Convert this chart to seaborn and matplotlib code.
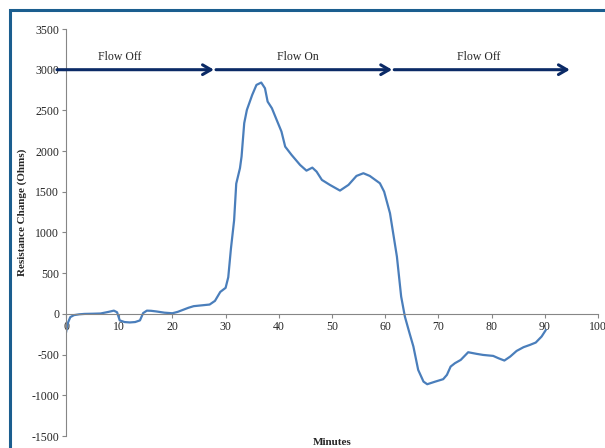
import matplotlib
matplotlib.use("Agg")
import matplotlib.pyplot as plt
import seaborn as sns
import pandas as pd
from matplotlib.patches import Rectangle

# data
minutes = [0, 0.3, 0.8, 1.5, 2.5, 3.5, 5, 6.5, 8, 9, 9.6, 10.1, 11, 12, 13, 13.9,
           14.5, 15.2, 16, 17, 18.5, 20, 21, 22, 23, 24, 25.5, 27, 28, 29, 30,
           30.5, 31, 31.6, 32, 32.7, 33, 33.5, 34, 35, 35.8, 36.7, 37.4, 37.9,
           38.7, 39.6, 40.5, 41.2, 42.4, 44, 45.2, 46.3, 47.1, 48.1, 49.6, 51.5,
           53.1, 54.6, 55.9, 57.1, 59, 59.8, 60.9, 61.4, 62.2, 63, 63.7, 64.5,
           65.3, 66.2, 67.2, 67.9, 69.4, 70.9, 71.6, 72.3, 73.1, 74.2, 75.6,
           77.2, 78.4, 80.3, 81.3, 82.4, 83.5, 84.7, 86, 87.2, 88.3, 89.4, 90.2]
resistance = [-230, -120, -40, -15, -5, 0, 2, 5, 25, 40, 20, -80, -100, -105, -100,
              -80, 10, 40, 38, 30, 15, 8, 25, 50, 75, 95, 105, 115, 160, 270, 320,
              450, 800, 1150, 1600, 1790, 1933, 2343, 2506, 2690, 2813, 2842, 2772,
              2608, 2527, 2383, 2240, 2055, 1953, 1830, 1760, 1797, 1748, 1646,
              1585, 1515, 1585, 1695, 1728, 1695, 1605, 1502, 1237, 1032, 704, 213,
              -33, -220, -401, -688, -832, -864, -832, -802, -749, -647, -606,
              -565, -471, -491, -504, -516, -545, -573, -524, -455, -409, -381,
              -352, -278, -197]

phase_labels = ["Flow Off", "Flow On", "Flow Off"]
phase_start = [-1.7, 28.2, 61.7]
phase_end = [27.8, 61.3, 94.7]
phase_text_x = [10, 43.5, 77.5]
arrow_level = 3000

df = pd.DataFrame({"Minutes": minutes, "Resistance": resistance})

sns.set_style("white")
plt.rcParams["font.family"] = ["Liberation Serif", "DejaVu Serif"]
plt.rcParams["axes.unicode_minus"] = False

fig = plt.figure(figsize=(6.05, 4.48), dpi=100)
ax = fig.add_axes([66 / 605, 1 - 436 / 448, (598 - 66) / 605, (436 - 29) / 448])

sns.lineplot(data=df, x="Minutes", y="Resistance", ax=ax, color="#4a7ebb",
             linewidth=1.6, sort=False)

ax.set_xlim(0, 100)
ax.set_ylim(-1500, 3500)
ax.set_xticks(range(0, 101, 10))
ax.set_yticks(range(-1500, 3501, 500))

for s in ["top", "right"]:
    ax.spines[s].set_visible(False)
ax.spines["bottom"].set_position(("data", 0))
for s in ["left", "bottom"]:
    ax.spines[s].set_color("#868686")
    ax.spines[s].set_linewidth(0.8)
ax.tick_params(axis="both", direction="out", length=3, width=0.8,
               color="#868686", labelsize=8.5, pad=2, left=True, bottom=True)

ax.set_xlabel("")
ax.set_ylabel("")
fig.text(332 / 605, 1 - 442 / 448, "Minutes", ha="center", va="center",
         fontsize=8, fontweight="bold")
fig.text(22 / 605, 1 - 212 / 448, "Resistance Change (Ohms)", ha="center",
         va="center", rotation=90, fontsize=8, fontweight="bold")

for lab, x0, x1, tx in zip(phase_labels, phase_start, phase_end, phase_text_x):
    ax.annotate("", xy=(x1, arrow_level), xytext=(x0, arrow_level),
                annotation_clip=False,
                arrowprops=dict(arrowstyle="->,head_length=0.6,head_width=0.35",
                                color="#0b2a66", lw=2.2, shrinkA=0, shrinkB=0))
    ax.text(tx, arrow_level + 150, lab, ha="center", va="center", fontsize=8.5)

# outer frame
fig.patches.append(Rectangle((10 / 605, -0.1), 1.2, 1 - 10 / 448 + 0.1,
                             transform=fig.transFigure, fill=False,
                             edgecolor="#1b5e8f", linewidth=2.2))

fig.savefig("out.png", dpi=100)
